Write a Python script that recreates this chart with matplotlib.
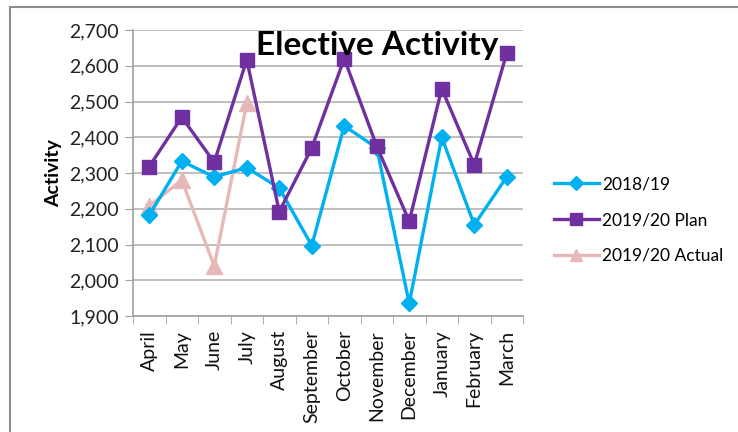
import numpy as np
import matplotlib.pyplot as plt
from matplotlib.lines import Line2D

plt.rcParams['font.family'] = ['Lato', 'DejaVu Sans']

months = ['April', 'May', 'June', 'July', 'August', 'September', 'October',
          'November', 'December', 'January', 'February', 'March']
act_1819 = [2182, 2333, 2289, 2315, 2258, 2097, 2432, 2370, 1935, 2400, 2155, 2289]
plan_1920 = [2318, 2456, 2330, 2617, 2192, 2370, 2620, 2375, 2165, 2536, 2323, 2635]
actual_1920 = [2208, 2280, 2040, 2495]

fig = plt.figure(figsize=(7.38, 4.32), dpi=100)
ax = fig.add_axes([133 / 738, 1 - 316 / 432, 390 / 738, 286 / 432])

x = np.arange(len(months))
ax.plot(x, act_1819, color='#00b0f0', lw=2.4, marker='D', ms=8.5,
        label='2018/19', zorder=3)
ax.plot(x, plan_1920, color='#7030a0', lw=2.4, marker='s', ms=10.5,
        label='2019/20 Plan', zorder=4)
ax.plot(x[:len(actual_1920)], actual_1920, color='#e6b9b8', lw=2.4, marker='^',
        ms=11, label='2019/20 Actual', zorder=2)

ax.set_xlim(-0.5, len(months) - 0.5)
ax.set_ylim(1900, 2700)
ax.set_yticks(np.arange(1900, 2701, 100))
ax.set_yticklabels([f'{v:,}' for v in range(1900, 2701, 100)], fontsize=14,
                   color='#222222')
ax.set_xticks(x)
ax.set_xticklabels(months, rotation=90, fontsize=14, color='#111111')
ax.set_xticks(np.arange(-0.5, len(months)), minor=True)
ax.tick_params(axis='x', which='major', length=0, pad=10)
ax.tick_params(axis='x', which='minor', length=6, color='#a0a0a0', direction='out')
ax.tick_params(axis='y', length=6, color='#a0a0a0', pad=4)

ax.grid(axis='y', color='#b4b4b4', lw=1.2, zorder=0)
ax.set_axisbelow(True)
for side in ['top', 'right']:
    ax.spines[side].set_visible(False)
for side in ['left', 'bottom']:
    ax.spines[side].set_color('#a0a0a0')
    ax.spines[side].set_linewidth(1.2)

ax.set_ylabel('Activity', fontsize=14, fontweight='bold', labelpad=5)

fig.text(377 / 738, 1 - 46 / 432, 'Elective Activity', fontsize=24,
         fontweight='bold', ha='center', va='center', zorder=10)

handles, labels = ax.get_legend_handles_labels()
fig.legend(handles, labels, loc='center left', bbox_to_anchor=(538 / 738, 1 - 220 / 432),
           frameon=False, fontsize=12.5, handlelength=2.6, labelspacing=1.15,
           handletextpad=0.2, markerscale=0.85)

# chart frame
fig.add_artist(Line2D([10 / 738, 10 / 738], [0, 1 - 7 / 432], color='#8c8c8c', lw=1.5))
fig.add_artist(Line2D([10 / 738, 1], [1 - 7 / 432, 1 - 7 / 432], color='#8c8c8c', lw=1.5))

fig.savefig('out.png', dpi=100)
